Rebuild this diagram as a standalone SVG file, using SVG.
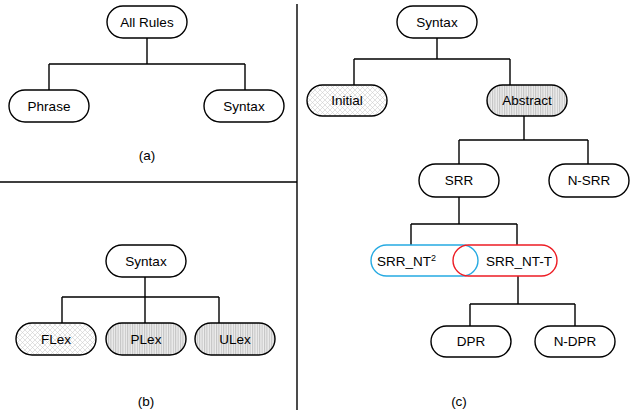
<svg xmlns="http://www.w3.org/2000/svg" width="634" height="410" viewBox="0 0 634 410">
<defs>
<pattern id="cross" width="5" height="5" patternUnits="userSpaceOnUse">
<rect width="5" height="5" fill="#ffffff"/>
<path d="M0 0L5 5M5 0L0 5" stroke="#cccccc" stroke-width="0.6"/>
</pattern>
<pattern id="vstripe" width="2.4" height="4" patternUnits="userSpaceOnUse">
<rect width="2.4" height="4" fill="#eeeeee"/>
<path d="M0.6 0V4" stroke="#a6a6a6" stroke-width="0.7"/>
</pattern>
</defs>
<style>
.n{fill:#fff;stroke:#000;stroke-width:1.4}
.c{fill:url(#cross);stroke:#000;stroke-width:1.4}
.v{fill:url(#vstripe);stroke:#000;stroke-width:1.4}
.t{font-family:"Liberation Sans",Arial,sans-serif;font-size:13.5px;fill:#000;text-anchor:middle}
.e{fill:none;stroke:#000;stroke-width:1.4}
</style>
<g id="dividers">
<path class="e" d="M297 4V410M0 182H297"/>
</g>
<g id="connectors">
<path class="e" d="M147 38V64M49 64H245M49 64V90M245 64V90"/>
<path class="e" d="M145 277V297M62 297H219M62 297V323M145 297V323M219 297V323"/>
<path class="e" d="M437 38V59M354 59H510M354 59V85M510 59V85"/>
<path class="e" d="M524 116V140M459 140H588M459 140V164M588 140V164"/>
<path class="e" d="M459 197V224M411 224H517M411 224V245M517 224V245"/>
<path class="e" d="M518 276V304M470 304H575M470 304V326M575 304V326"/>
</g>
<g id="all-rules"><rect class="n" x="107" y="6" width="80" height="32" rx="16"/><text class="t" x="147" y="27">All Rules</text></g>
<g id="phrase"><rect class="n" x="9" y="90" width="80" height="32" rx="16"/><text class="t" x="49" y="111">Phrase</text></g>
<g id="syntax-a"><rect class="n" x="204" y="90" width="80" height="32" rx="16"/><text class="t" x="244" y="111">Syntax</text></g>
<text class="t" x="147" y="160">(a)</text>
<g id="syntax-b"><rect class="n" x="106" y="245" width="80" height="32" rx="16"/><text class="t" x="146" y="266">Syntax</text></g>
<g id="flex"><rect class="c" x="16" y="323" width="80" height="32" rx="16"/><text class="t" x="56" y="344">FLex</text></g>
<g id="plex"><rect class="v" x="106" y="323" width="80" height="32" rx="16"/><text class="t" x="146" y="344">PLex</text></g>
<g id="ulex"><rect class="v" x="195" y="323" width="80" height="32" rx="16"/><text class="t" x="235" y="344">ULex</text></g>
<text class="t" x="146" y="406">(b)</text>
<g id="syntax-c"><rect class="n" x="397" y="6" width="80" height="32" rx="16"/><text class="t" x="437" y="27">Syntax</text></g>
<g id="initial"><rect class="c" x="307" y="85" width="80" height="31" rx="15.5"/><text class="t" x="347" y="105">Initial</text></g>
<g id="abstract"><rect class="v" x="487" y="85" width="80" height="31" rx="15.5"/><text class="t" x="527" y="105">Abstract</text></g>
<g id="srr"><rect class="n" x="419" y="164" width="80" height="33" rx="16.5"/><text class="t" x="459" y="185">SRR</text></g>
<g id="n-srr"><rect class="n" x="549" y="164" width="80" height="33" rx="16.5"/><text class="t" x="589" y="185">N-SRR</text></g>
<g id="srr-nt2"><rect x="371" y="245" width="107" height="31" rx="15.5" fill="none" stroke="#26aae2" stroke-width="1.4"/><text class="t" x="377" y="266" style="text-anchor:start">SRR_NT<tspan font-size="9" dy="-5">2</tspan></text></g>
<g id="srr-nt-t"><rect x="453" y="245" width="104" height="31" rx="15.5" fill="none" stroke="#ed1c24" stroke-width="1.4"/><text class="t" x="486" y="266" style="text-anchor:start">SRR_NT-T</text></g>
<g id="dpr"><rect class="n" x="431" y="326" width="80" height="31" rx="15.5"/><text class="t" x="471" y="346">DPR</text></g>
<g id="n-dpr"><rect class="n" x="535" y="326" width="80" height="31" rx="15.5"/><text class="t" x="575" y="346">N-DPR</text></g>
<text class="t" x="459" y="406">(c)</text>
</svg>
